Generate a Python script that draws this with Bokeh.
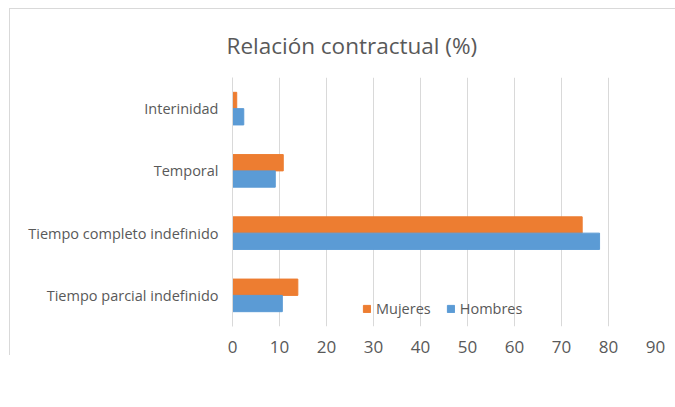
from bokeh.plotting import figure
from bokeh.models import ColumnDataSource, FactorRange, Range1d, Legend, LegendItem
from bokeh.transform import dodge
from bokeh.embed import file_html
from bokeh.resources import INLINE

categories = ["Interinidad", "Temporal", "Tiempo completo indefinido", "Tiempo parcial indefinido"]
mujeres = [0.9, 10.8, 74.4, 13.9]
hombres = [2.4, 9.1, 78.1, 10.6]
x_ticks = [0, 10, 20, 30, 40, 50, 60, 70, 80, 90]

src = ColumnDataSource(dict(cat=categories, mujeres=mujeres, hombres=hombres))

FONT = "Open Sans"
GRAY = "#595959"

p = figure(output_backend="svg", toolbar_location=None,
           width=665, height=398,
           y_range=FactorRange(factors=list(reversed(categories))),
           x_range=Range1d(0, 90),
           frame_width=423, frame_height=249,
           min_border_left=222, min_border_right=20, min_border_top=68, min_border_bottom=0)
p.styles = {"margin-left": "9px", "margin-top": "8px",
            "border-left": "1px solid #d9d9d9", "border-top": "1px solid #d9d9d9"}

r_m = p.hbar(y=dodge("cat", 0.131, range=p.y_range), right="mujeres", left=0, height=0.262,
             source=src, color="#ED7D31")
r_h = p.hbar(y=dodge("cat", -0.131, range=p.y_range), right="hombres", left=0, height=0.262,
             source=src, color="#5B9BD5")

p.title.text = "Relación contractual (%)"
p.title.align = "left"
p.title.offset = -6
p.title.standoff = 34
p.title.text_font = FONT
p.title.text_font_size = "22.5px"
p.title.text_font_style = "normal"
p.title.text_color = GRAY

p.outline_line_color = None
p.ygrid.grid_line_color = None
p.xgrid.grid_line_color = "#d9d9d9"
p.xgrid.ticker = x_ticks

p.xaxis.ticker = x_ticks
p.xaxis.axis_line_color = None
p.xaxis.major_tick_line_color = None
p.xaxis.minor_tick_line_color = None
p.xaxis.major_tick_out = 0
p.xaxis.major_tick_in = 0
p.xaxis.minor_tick_out = 0
p.xaxis.major_label_text_font = FONT
p.xaxis.major_label_text_font_size = "17px"
p.xaxis.major_label_text_color = GRAY
p.xaxis.major_label_standoff = 14

p.yaxis.axis_line_color = "#d9d9d9"
p.yaxis.major_tick_line_color = None
p.yaxis.minor_tick_line_color = None
p.yaxis.major_tick_out = 0
p.yaxis.major_tick_in = 0
p.yaxis.minor_tick_out = 0
p.yaxis.major_label_text_font = FONT
p.yaxis.major_label_text_font_size = "14.5px"
p.yaxis.major_label_text_color = GRAY
p.yaxis.major_label_standoff = 14

legend = Legend(items=[LegendItem(label="Mujeres", renderers=[r_m]),
                       LegendItem(label="Hombres", renderers=[r_h])],
                orientation="horizontal", location=(130, 8),
                glyph_width=9, glyph_height=9, label_height=18, label_text_font=FONT,
                label_text_font_size="14.5px", label_text_color=GRAY,
                border_line_color=None, background_fill_alpha=0, spacing=15,
                label_standoff=5, padding=0, margin=0)
p.add_layout(legend, "center")

open("out.html", "w").write(file_html(p, INLINE))
